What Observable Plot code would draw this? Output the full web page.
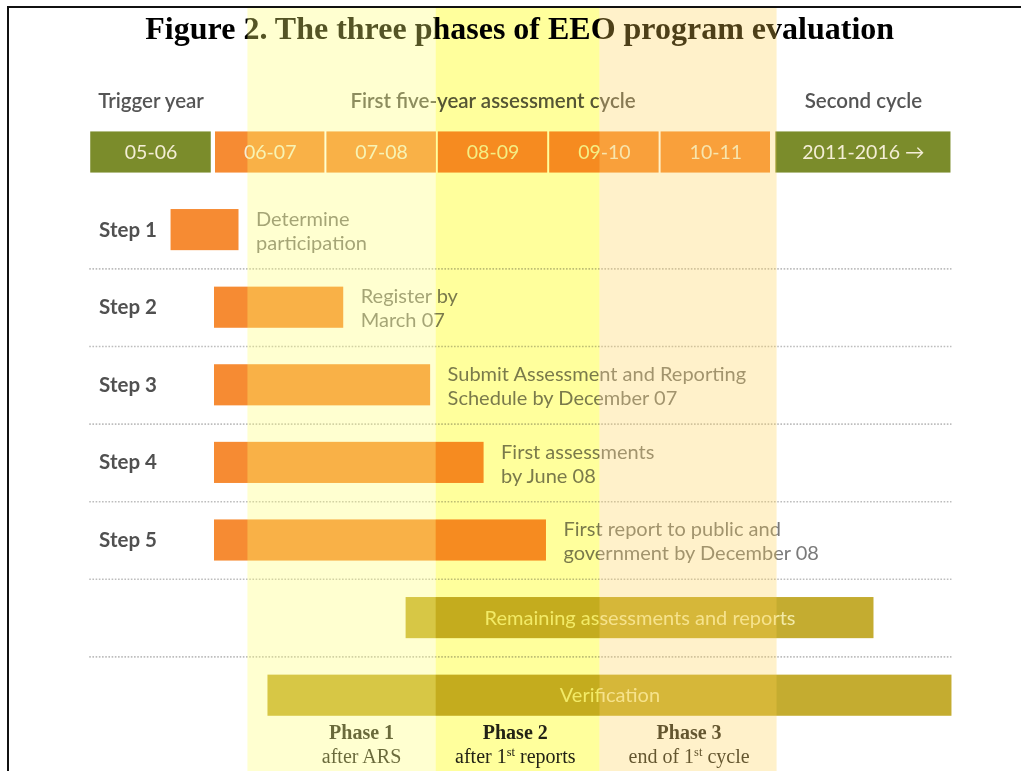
<!DOCTYPE html>
<html><head><meta charset="utf-8">
<script src="https://cdn.jsdelivr.net/npm/d3@7"></script>
<script src="https://cdn.jsdelivr.net/npm/@observablehq/plot@0.6"></script>
<style>
html,body{margin:0;padding:0;background:#fff;}
#chart{position:relative;width:1021px;height:771px;overflow:hidden;}
#chart svg{position:absolute;left:0;top:0;}
#frame{position:absolute;left:7px;top:6px;right:-10px;bottom:-10px;border-left:2px solid #111;border-top:2px solid #111;pointer-events:none;z-index:2;}
</style></head><body>
<div id="chart"><div id="frame"></div></div>
<script>
// ---- data ----
const title = "Figure 2. The three phases of EEO program evaluation";
const headerLabels = ["05-06","06-07","07-08","08-09","09-10","10-11","2011-2016 →"];
const headerStart = [2004.88, 2006, 2007, 2008, 2009, 2010, 2011.03];
const headerEnd   = [2005.98, 2007, 2008, 2009, 2010, 2011, 2012.62];
const headerKind  = ["trigger","cycle","cycle","cycle","cycle","cycle","second"];
const groupLabels = ["Trigger year","First five-year assessment cycle","Second cycle"];
const groupStart  = [2004.88, 2006, 2011.03];
const groupEnd    = [2005.98, 2011, 2012.62];
const stepLabels  = ["Step 1","Step 2","Step 3","Step 4","Step 5"];
const stepStart   = [2005.61, 2006, 2006, 2006, 2006];
const stepEnd     = [2006.22, 2007.16, 2007.94, 2008.42, 2008.98];
const stepNotes   = ["Determine\nparticipation","Register by\nMarch 07","Submit Assessment and Reporting\nSchedule by December 07","First assessments\nby June 08","First report to public and\ngovernment by December 08"];
const wideLabels  = ["Remaining assessments and reports","Verification"];
const wideStart   = [2007.72, 2006.48];
const wideEnd     = [2011.92, 2012.62];
const phaseNames  = ["Phase 1","Phase 2","Phase 3"];
const phaseNotes  = ["after ARS","after 1st reports","end of 1st cycle"];
const phaseStart  = [2006.30, 2007.99, 2009.46];
const phaseEnd    = [2007.99, 2009.46, 2011.05];
const phaseLabelX = [2007.32, 2008.70, 2010.26];

// ---- tables ----
const header = headerLabels.map((label, i) => ({label, x1: headerStart[i], x2: headerEnd[i], kind: headerKind[i], row: 0}));
const groups = groupLabels.map((label, i) => ({label, x1: groupStart[i], x2: groupEnd[i], row: 0}));
const steps = stepLabels.map((label, i) => ({label, x1: stepStart[i], x2: stepEnd[i], note: stepNotes[i], row: i + 1}));
const wide = wideLabels.map((label, i) => ({label, x1: wideStart[i], x2: wideEnd[i], row: stepLabels.length + 1 + i}));
const phases = phaseNames.map((name, i) => ({name, note: phaseNotes[i], x1: phaseStart[i], x2: phaseEnd[i], lx: phaseLabelX[i], idx: i}));
const lastRow = stepLabels.length + wideLabels.length;
const separators = d3.range(1.5, lastRow, 1);

// ---- styles ----
const ORANGE = "#f68b33", GREEN = "#7b8c2b", OLIVE = "#c4ac30";
const kindFill = {trigger: GREEN, cycle: ORANGE, second: GREEN};
const phaseFill = ["#ffff70", "#ffff9c", "#ffcf50"];
const phaseOpacity = [0.33, 1, 0.3];
const H = 0.265;
const SANS = "Lato, 'Open Sans', sans-serif";
const SERIF = "'Liberation Serif', 'Times New Roman', serif";

const plot = Plot.plot({
  width: 1021, height: 771,
  marginLeft: 102.6, marginRight: 27.2, marginTop: 7, marginBottom: 0,
  x: {domain: [2005, 2013], axis: null},
  y: {domain: [0, lastRow], range: [152, 695.2], axis: null},
  color: {type: "identity"},
  style: {fontFamily: SANS, background: "transparent", overflow: "visible"},
  marks: [
    Plot.ruleY(separators, {y: d => d, x1: groupStart[0], x2: groupEnd[2], stroke: "#bdbdbd", strokeWidth: 1.6, strokeDasharray: "1.6,1.6"}),
    Plot.rect(header, {x1: "x1", x2: "x2", y1: d => d.row - H, y2: d => d.row + H, fill: d => kindFill[d.kind], insetLeft: 1, insetRight: 1}),
    Plot.text(header, {x: d => (d.x1 + d.x2) / 2, y: "row", text: "label", fill: "#f4eed6", fontSize: 19.5}),
    Plot.text(groups, {x: d => (d.x1 + d.x2) / 2, y: "row", dy: -51, text: "label", fill: "#555", fontSize: 20.5, fontWeight: 600}),
    Plot.rect(steps, {x1: "x1", x2: "x2", y1: d => d.row - H, y2: d => d.row + H, fill: ORANGE}),
    Plot.text(steps, {frameAnchor: "left", y: "row", dx: -4, textAnchor: "start", text: "label", fill: "#505050", fontSize: 20.5, fontWeight: 700}),
    Plot.text(steps, {x: "x2", y: "row", dx: 17, textAnchor: "start", text: "note", lineHeight: 1.2, fill: "#7a7a7a", fontSize: 20}),
    Plot.rect(wide, {x1: "x1", x2: "x2", y1: d => d.row - H, y2: d => d.row + H, fill: OLIVE}),
    Plot.text(wide, {x: d => (d.x1 + d.x2) / 2, y: "row", text: "label", fill: "#f2eaa6", fontSize: 20}),
    Plot.text(phases, {x: "lx", y: () => lastRow, dy: 37, text: "name", fontFamily: SERIF, fontWeight: 700, fontSize: 20, fill: "#222"}),
    Plot.text(phases, {x: "lx", y: () => lastRow, dy: 61, text: "note", fontFamily: SERIF, fontSize: 20, fill: "#222"}),
    Plot.text([title], {frameAnchor: "top", dx: -29, dy: 21, lineAnchor: "middle", text: d => d, fontFamily: SERIF, fontWeight: 700, fontSize: 32, fill: "#000"}),
    Plot.rect(phases, {filter: d => d.idx !== 1, x1: "x1", x2: "x2", fill: d => phaseFill[d.idx], fillOpacity: d => phaseOpacity[d.idx]}),
    Plot.rect(phases, {filter: d => d.idx === 1, x1: "x1", x2: "x2", fill: d => phaseFill[d.idx], mixBlendMode: "multiply"})
  ]
});

// superscript "st"
d3.select(plot).selectAll("text").filter(function() { return /1st/.test(this.textContent); }).each(function() {
  const parts = this.textContent.split("1st");
  const s = d3.select(this).text(null);
  s.append("tspan").text(parts[0] + "1");
  s.append("tspan").attr("baseline-shift", "super").attr("font-size", "0.62em").text("st");
  s.append("tspan").text(parts[1]);
});

document.getElementById("chart").appendChild(plot);
</script>
</body></html>
